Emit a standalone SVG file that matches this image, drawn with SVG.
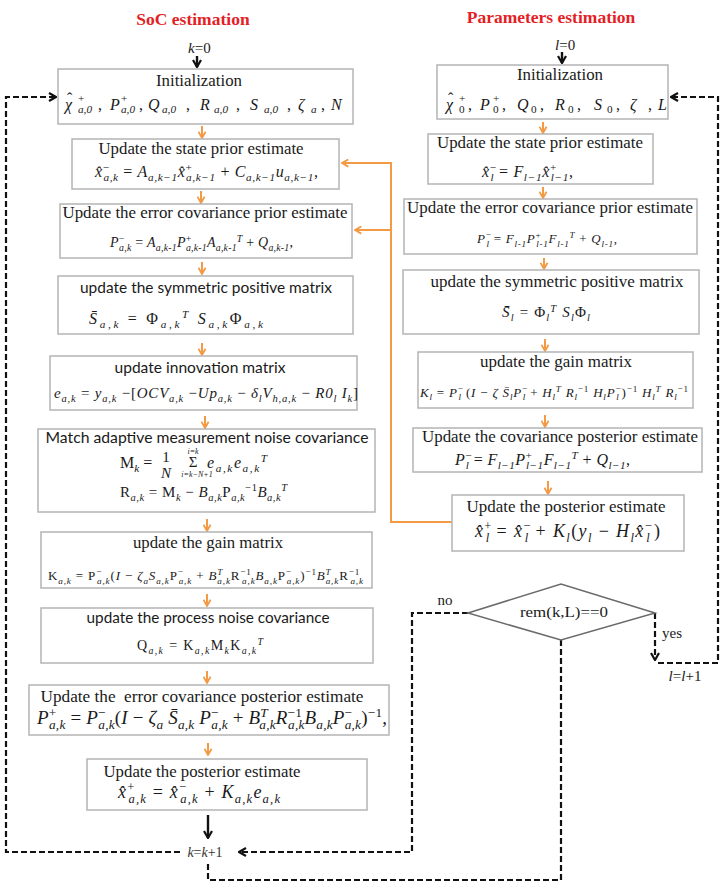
<svg xmlns="http://www.w3.org/2000/svg" width="726" height="888" viewBox="0 0 726 888">
<style>
.bg{fill:#fff}
.box{fill:#fff;stroke:#b4b4b4;stroke-width:1.5}
.t{font-family:"Liberation Serif","Times New Roman",serif;font-size:16px;fill:#1a1a1a;text-anchor:middle}
.ts{font-family:Lato,"Open Sans","Liberation Sans",sans-serif;font-size:16px;fill:#1a1a1a;text-anchor:middle}
.h{font-family:"Liberation Serif","Times New Roman",serif;font-size:17.5px;font-weight:bold;fill:#e41e26;text-anchor:middle}
.m{font-family:"Liberation Serif","Times New Roman",serif;font-style:italic;fill:#1a1a1a}
.u{font-style:normal}
.s{font-size:70%}
.oa{stroke:#f39a45;stroke-width:2;fill:none}
.dash{stroke:#111;stroke-width:2.2;fill:none;stroke-dasharray:6 3}
.sol{stroke:#111;stroke-width:2.4;fill:none}
</style>
<defs>
<marker id="ao" viewBox="0 0 10 10" refX="9" refY="5" markerWidth="9" markerHeight="9" markerUnits="userSpaceOnUse" orient="auto"><path d="M2,1 L9,5 L2,9" fill="none" stroke="#f39a45" stroke-width="2"/></marker>
<marker id="ab" viewBox="0 0 10 10" refX="9" refY="5" markerWidth="10" markerHeight="10" markerUnits="userSpaceOnUse" orient="auto"><path d="M2,1 L9,5 L2,9" fill="none" stroke="#111" stroke-width="2.2"/></marker>
</defs>
<rect class="bg" x="0" y="0" width="726" height="888"/>

<text class="h" x="193" y="25">SoC estimation</text>
<text class="h" x="551" y="23">Parameters estimation</text>

<g id="connectors">
<line class="sol" x1="197" y1="56" x2="197" y2="67" marker-end="url(#ab)"/>
<line class="sol" x1="562" y1="52" x2="562" y2="63" marker-end="url(#ab)"/>
<line class="oa" x1="202" y1="126" x2="202" y2="138" marker-end="url(#ao)"/>
<line class="oa" x1="201" y1="191" x2="201" y2="203" marker-end="url(#ao)"/>
<line class="oa" x1="202" y1="262" x2="202" y2="274" marker-end="url(#ao)"/>
<line class="oa" x1="202" y1="343" x2="202" y2="355" marker-end="url(#ao)"/>
<line class="oa" x1="205" y1="416" x2="205" y2="428" marker-end="url(#ao)"/>
<line class="oa" x1="207" y1="519" x2="207" y2="531" marker-end="url(#ao)"/>
<line class="oa" x1="207" y1="594" x2="207" y2="606" marker-end="url(#ao)"/>
<line class="oa" x1="207" y1="671" x2="207" y2="683" marker-end="url(#ao)"/>
<line class="oa" x1="208" y1="743" x2="208" y2="755" marker-end="url(#ao)"/>
<line class="oa" x1="543" y1="122" x2="543" y2="133" marker-end="url(#ao)"/>
<line class="oa" x1="543" y1="187" x2="543" y2="198" marker-end="url(#ao)"/>
<line class="oa" x1="544" y1="258" x2="544" y2="269" marker-end="url(#ao)"/>
<line class="oa" x1="545" y1="339" x2="545" y2="351" marker-end="url(#ao)"/>
<line class="oa" x1="545" y1="415" x2="545" y2="427" marker-end="url(#ao)"/>
<line class="oa" x1="548" y1="481" x2="548" y2="494" marker-end="url(#ao)"/>
<polyline class="oa" points="452,522 391,522 391,163 342,163" marker-end="url(#ao)"/>
<line class="oa" x1="391" y1="230" x2="355" y2="230" marker-end="url(#ao)"/>
<line class="sol" x1="208" y1="815" x2="208" y2="838" marker-end="url(#ab)"/>
<polyline class="dash" points="180,852 6,852 6,97 56,97" marker-end="url(#ab)"/>
<polyline class="dash" points="468,613 412,613 412,852 239,852" marker-end="url(#ab)"/>
<polyline class="dash" points="561,640 561,880 208,880 208,863"/>
<polyline class="dash" points="655,613 655,660" marker-end="url(#ab)"/>
<polyline class="dash" points="658,663 718,663 718,97 671,97" marker-end="url(#ab)"/>
</g>

<text class="m" x="188" y="53" style="font-size:15px">k<tspan class="u">=0</tspan></text>
<text class="m" x="555" y="50" style="font-size:15px">l<tspan class="u">=0</tspan></text>

<g id="soc-init">
<rect class="box" x="58" y="69" width="295" height="55"/>
<text class="t" x="199" y="86" textLength="86" lengthAdjust="spacingAndGlyphs">Initialization</text>
<text class="m" style="font-size:16px"><tspan x="65" y="110">χ</tspan><tspan class="u" x="67" y="104">ˆ</tspan><tspan class="s u" x="78" y="102">+</tspan><tspan class="s" x="78" y="113">a,0</tspan><tspan class="u" x="98" y="110">,</tspan><tspan x="110" y="110">P</tspan><tspan class="s u" x="121" y="102">+</tspan><tspan class="s" x="121" y="113">a,0</tspan><tspan class="u" x="139" y="110">,</tspan><tspan x="148" y="110">Q</tspan><tspan class="s" x="162" y="113">a,0</tspan><tspan class="u" x="186" y="110">,</tspan><tspan x="200" y="110">R</tspan><tspan class="s" x="214" y="113">a,0</tspan><tspan class="u" x="236" y="110">,</tspan><tspan x="250" y="110">S</tspan><tspan class="s" x="264" y="113">a,0</tspan><tspan class="u" x="287" y="110">,</tspan><tspan x="298" y="110">ζ</tspan><tspan class="s" x="311" y="113">a</tspan><tspan class="u" x="321" y="110">,</tspan><tspan x="331" y="110">N</tspan></text>
</g>

<g id="soc-state-prior">
<rect class="box" x="72" y="139" width="267" height="50"/>
<text class="t" x="201" y="154" textLength="205" lengthAdjust="spacingAndGlyphs">Update the state prior estimate</text>
<text class="m" x="95" y="177" style="font-size:16px" textLength="223" lengthAdjust="spacing"><tspan>x̂</tspan><tspan class="s u" dy="-6">−</tspan><tspan class="s" dx="-0.56em" dy="10">a,k</tspan><tspan class="u" dy="-4"> = </tspan><tspan>A</tspan><tspan class="s" dy="4">a,k−1</tspan><tspan dy="-4">x̂</tspan><tspan class="s u" dy="-6">+</tspan><tspan class="s" dx="-0.56em" dy="10">a,k−1</tspan><tspan class="u" dy="-4"> + </tspan><tspan>C</tspan><tspan class="s" dy="4">a,k−1</tspan><tspan dy="-4">u</tspan><tspan class="s" dy="4">a,k−1</tspan><tspan class="u" dy="-4">,</tspan></text>
</g>

<g id="soc-cov-prior">
<rect class="box" x="60" y="204" width="292" height="54"/>
<text class="t" x="205" y="218" textLength="285" lengthAdjust="spacingAndGlyphs">Update the error covariance prior estimate</text>
<text class="m" x="110" y="247" style="font-size:14px" textLength="183" lengthAdjust="spacing"><tspan>P</tspan><tspan class="s u" dy="-5.5">−</tspan><tspan class="s" dx="-0.56em" dy="9">a,k</tspan><tspan class="u" dy="-3.5"> = </tspan><tspan>A</tspan><tspan class="s" dy="3.5">a,k-1</tspan><tspan dy="-3.5">P</tspan><tspan class="s u" dy="-5.5">+</tspan><tspan class="s" dx="-0.56em" dy="9">a,k-1</tspan><tspan dy="-3.5">A</tspan><tspan class="s" dy="3.5">a,k-1</tspan><tspan class="s" dy="-9">T</tspan><tspan class="u" dy="5.5"> + </tspan><tspan>Q</tspan><tspan class="s" dy="3.5">a,k-1</tspan><tspan class="u" dy="-3.5">,</tspan></text>
</g>

<g id="soc-sym">
<rect class="box" x="58" y="276" width="295" height="58"/>
<text class="ts" x="206" y="293" textLength="252" lengthAdjust="spacingAndGlyphs">update the symmetric positive matrix</text>
<text class="m" x="89" y="324" style="font-size:16px" textLength="174" lengthAdjust="spacing"><tspan>S̄</tspan><tspan class="s" dy="4">a,k</tspan><tspan class="u" dy="-4"> = Φ</tspan><tspan class="s" dy="4">a,k</tspan><tspan class="s" dy="-10">T</tspan><tspan dy="6"> S</tspan><tspan class="s" dy="4">a,k</tspan><tspan class="u" dy="-4">Φ</tspan><tspan class="s" dy="4">a,k</tspan></text>
</g>

<g id="soc-innovation">
<rect class="box" x="50" y="356" width="307" height="54"/>
<text class="ts" x="200" y="373" textLength="171" lengthAdjust="spacingAndGlyphs">update innovation matrix</text>
<text class="m" x="54" y="398" style="font-size:15px" textLength="304" lengthAdjust="spacing"><tspan>e</tspan><tspan class="s" dy="4">a,k</tspan><tspan class="u" dy="-4"> = </tspan><tspan>y</tspan><tspan class="s" dy="4">a,k</tspan><tspan class="u" dy="-4"> −[</tspan><tspan>OCV</tspan><tspan class="s" dy="4">a,k</tspan><tspan class="u" dy="-4"> −</tspan><tspan>Up</tspan><tspan class="s" dy="4">a,k</tspan><tspan class="u" dy="-4"> − </tspan><tspan>δ</tspan><tspan class="s" dy="4">l</tspan><tspan dy="-4">V</tspan><tspan class="s" dy="4">h,a,k</tspan><tspan class="u" dy="-4"> − </tspan><tspan>R0</tspan><tspan class="s" dy="4">l</tspan><tspan dy="-4"> I</tspan><tspan class="s" dy="4">k</tspan><tspan class="u" dy="-4">]</tspan></text>
</g>

<g id="soc-match">
<rect class="box" x="38" y="429" width="337" height="83"/>
<text class="ts" x="207" y="443" textLength="323" lengthAdjust="spacingAndGlyphs">Match adaptive measurement noise covariance</text>
<text class="m" x="120" y="468" style="font-size:16px"><tspan class="u">M</tspan><tspan class="s" dy="4">k</tspan><tspan class="u" dy="-4"> =</tspan></text>
<text class="m u" x="166" y="462" style="font-size:15px;text-anchor:middle">1</text>
<text class="m" x="166" y="478" style="font-size:15px;text-anchor:middle">N</text>
<text class="m u" x="193" y="467" style="font-size:15px;text-anchor:middle">Σ</text>
<text class="m" x="193" y="454" style="font-size:8px;text-anchor:middle">i=k</text>
<text class="m" x="197" y="477" style="font-size:8px;text-anchor:middle">i=k−N+1</text>
<text class="m" x="207" y="468" style="font-size:16px" textLength="60" lengthAdjust="spacing"><tspan>e</tspan><tspan class="s" dy="4">a,k</tspan><tspan dy="-4">e</tspan><tspan class="s" dy="4">a,k</tspan><tspan class="s" dy="-10">T</tspan></text>
<text class="m" x="120" y="497" style="font-size:15px" textLength="167" lengthAdjust="spacing"><tspan class="u">R</tspan><tspan class="s" dy="4">a,k</tspan><tspan class="u" dy="-4"> = M</tspan><tspan class="s" dy="4">k</tspan><tspan class="u" dy="-4"> − </tspan><tspan>B</tspan><tspan class="s" dy="4">a,k</tspan><tspan class="u" dy="-4">P</tspan><tspan class="s" dy="4">a,k</tspan><tspan class="s u" dy="-10">−1</tspan><tspan dy="6">B</tspan><tspan class="s" dy="4">a,k</tspan><tspan class="s" dy="-10">T</tspan></text>
</g>

<g id="soc-gain">
<rect class="box" x="41" y="532" width="331" height="56"/>
<text class="t" x="208" y="548" textLength="150" lengthAdjust="spacingAndGlyphs">update the gain matrix</text>
<text class="m" x="48" y="580" style="font-size:13px" textLength="315" lengthAdjust="spacing"><tspan class="u">K</tspan><tspan class="s" dy="3.5">a,k</tspan><tspan class="u" dy="-3.5"> = P</tspan><tspan class="s u" dy="-5">−</tspan><tspan class="s" dx="-0.56em" dy="8.5">a,k</tspan><tspan class="u" dy="-3.5">(</tspan><tspan>I</tspan><tspan class="u"> − </tspan><tspan>ζ</tspan><tspan class="s" dy="3.5">a</tspan><tspan dy="-3.5">S</tspan><tspan class="s" dy="3.5">a,k</tspan><tspan class="u" dy="-3.5">P</tspan><tspan class="s u" dy="-5">−</tspan><tspan class="s" dx="-0.56em" dy="8.5">a,k</tspan><tspan class="u" dy="-3.5"> + </tspan><tspan>B</tspan><tspan class="s" dy="-5">T</tspan><tspan class="s" dx="-0.55em" dy="8.5">a,k</tspan><tspan class="u" dy="-3.5">R</tspan><tspan class="s u" dy="-5">−1</tspan><tspan class="s" dx="-1.06em" dy="8.5">a,k</tspan><tspan dy="-3.5">B</tspan><tspan class="s" dy="3.5">a,k</tspan><tspan class="u" dy="-3.5">P</tspan><tspan class="s u" dy="-5">−</tspan><tspan class="s" dx="-0.56em" dy="8.5">a,k</tspan><tspan class="u" dy="-3.5">)</tspan><tspan class="s u" dy="-5">−1</tspan><tspan dy="5">B</tspan><tspan class="s" dy="-5">T</tspan><tspan class="s" dx="-0.55em" dy="8.5">a,k</tspan><tspan class="u" dy="-3.5">R</tspan><tspan class="s u" dy="-5">−1</tspan><tspan class="s" dx="-1.06em" dy="8.5">a,k</tspan></text>
</g>

<g id="soc-process">
<rect class="box" x="41" y="608" width="332" height="55"/>
<text class="ts" x="208" y="623" textLength="243" lengthAdjust="spacingAndGlyphs">update the process noise covariance</text>
<text class="m" x="137" y="650" style="font-size:14px" textLength="126" lengthAdjust="spacing"><tspan class="u">Q</tspan><tspan class="s" dy="3.5">a,k</tspan><tspan class="u" dy="-3.5"> = K</tspan><tspan class="s" dy="3.5">a,k</tspan><tspan class="u" dy="-3.5">M</tspan><tspan class="s" dy="3.5">k</tspan><tspan class="u" dy="-3.5">K</tspan><tspan class="s" dy="3.5">a,k</tspan><tspan class="s" dy="-8.5">T</tspan></text>
</g>

<g id="soc-cov-posterior">
<rect class="box" x="29" y="685" width="360" height="50"/>
<text class="t" x="202" y="702" textLength="323" lengthAdjust="spacingAndGlyphs" style="white-space:pre">Update the  error covariance posterior estimate</text>
<text class="m" x="37" y="724" style="font-size:19px" textLength="350" lengthAdjust="spacing"><tspan>P</tspan><tspan class="s u" dy="-7.5">+</tspan><tspan class="s" dx="-0.56em" dy="12.5">a,k</tspan><tspan class="u" dy="-5"> = </tspan><tspan>P</tspan><tspan class="s u" dy="-7.5">−</tspan><tspan class="s" dx="-0.56em" dy="12.5">a,k</tspan><tspan class="u" dy="-5">(</tspan><tspan>I</tspan><tspan class="u"> − </tspan><tspan>ζ</tspan><tspan class="s" dy="5">a</tspan><tspan dy="-5"> S̄</tspan><tspan class="s" dy="5">a,k</tspan><tspan dy="-5"> P</tspan><tspan class="s u" dy="-7.5">−</tspan><tspan class="s" dx="-0.56em" dy="12.5">a,k</tspan><tspan class="u" dy="-5"> + </tspan><tspan>B</tspan><tspan class="s" dy="-7.5">T</tspan><tspan class="s" dx="-0.55em" dy="12.5">a,k</tspan><tspan dy="-5">R</tspan><tspan class="s u" dy="-7.5">−1</tspan><tspan class="s" dx="-1.06em" dy="12.5">a,k</tspan><tspan dy="-5">B</tspan><tspan class="s" dy="5">a,k</tspan><tspan dy="-5">P</tspan><tspan class="s u" dy="-7.5">−</tspan><tspan class="s" dx="-0.56em" dy="12.5">a,k</tspan><tspan class="u" dy="-5">)</tspan><tspan class="s u" dy="-7.5">−1</tspan><tspan class="u" dy="7.5">,</tspan></text>
</g>

<g id="soc-posterior">
<rect class="box" x="87" y="759" width="280" height="51"/>
<text class="t" x="202" y="777" textLength="197" lengthAdjust="spacingAndGlyphs">Update the posterior estimate</text>
<text class="m" x="118" y="798" style="font-size:18px" textLength="162" lengthAdjust="spacing"><tspan>x̂</tspan><tspan class="s u" dy="-7">+</tspan><tspan class="s" dx="-0.56em" dy="11.5">a,k</tspan><tspan class="u" dy="-4.5"> = </tspan><tspan>x̂</tspan><tspan class="s u" dy="-7">−</tspan><tspan class="s" dx="-0.56em" dy="11.5">a,k</tspan><tspan class="u" dy="-4.5"> + </tspan><tspan>K</tspan><tspan class="s" dy="4.5">a,k</tspan><tspan dy="-4.5">e</tspan><tspan class="s" dy="4.5">a,k</tspan></text>
</g>

<text class="m" x="205" y="857" style="font-size:14px;text-anchor:middle;fill:#333">k<tspan class="u">=</tspan>k<tspan class="u">+1</tspan></text>

<g id="par-init">
<rect class="box" x="437" y="65" width="231" height="54"/>
<text class="t" x="560" y="80" textLength="86" lengthAdjust="spacingAndGlyphs">Initialization</text>
<text class="m" style="font-size:16px"><tspan x="446" y="110">χ</tspan><tspan class="u" x="448" y="104">ˆ</tspan><tspan class="s u" x="459" y="102">+</tspan><tspan class="s u" x="459" y="113">0</tspan><tspan class="u" x="468" y="110">,</tspan><tspan x="480" y="110">P</tspan><tspan class="s u" x="493" y="102">+</tspan><tspan class="s u" x="493" y="113">0</tspan><tspan class="u" x="502" y="110">,</tspan><tspan x="517" y="110">Q</tspan><tspan class="s u" x="531" y="113">0</tspan><tspan class="u" x="540" y="110">,</tspan><tspan x="555" y="110">R</tspan><tspan class="s u" x="568" y="113">0</tspan><tspan class="u" x="577" y="110">,</tspan><tspan x="594" y="110">S</tspan><tspan class="s u" x="607" y="113">0</tspan><tspan class="u" x="616" y="110">,</tspan><tspan x="630" y="110">ζ</tspan><tspan class="u" x="648" y="110">,</tspan><tspan x="658" y="110">L</tspan></text>
</g>

<g id="par-state-prior">
<rect class="box" x="428" y="134" width="225" height="50"/>
<text class="t" x="540" y="148" textLength="206" lengthAdjust="spacingAndGlyphs">Update the state prior estimate</text>
<text class="m" x="482" y="177" style="font-size:16px" textLength="91" lengthAdjust="spacing"><tspan>x̂</tspan><tspan class="s u" dy="-6">−</tspan><tspan class="s" dx="-0.56em" dy="10">l</tspan><tspan class="u" dy="-4"> = </tspan><tspan>F</tspan><tspan class="s" dy="4">l−1</tspan><tspan dy="-4">x̂</tspan><tspan class="s u" dy="-6">+</tspan><tspan class="s" dx="-0.56em" dy="10">l−1</tspan><tspan class="u" dy="-4">,</tspan></text>
</g>

<g id="par-cov-prior">
<rect class="box" x="404" y="199" width="293" height="55"/>
<text class="t" x="550" y="213" textLength="286" lengthAdjust="spacingAndGlyphs">Update the error covariance prior estimate</text>
<text class="m" x="477" y="243" style="font-size:13px" textLength="140" lengthAdjust="spacing"><tspan>P</tspan><tspan class="s u" dy="-5">−</tspan><tspan class="s" dx="-0.56em" dy="8.5">l</tspan><tspan class="u" dy="-3.5"> = </tspan><tspan>F</tspan><tspan class="s" dy="3.5">l-1</tspan><tspan dy="-3.5">P</tspan><tspan class="s u" dy="-5">+</tspan><tspan class="s" dx="-0.56em" dy="8.5">l-1</tspan><tspan dy="-3.5">F</tspan><tspan class="s" dy="3.5">l-1</tspan><tspan class="s" dy="-8.5">T</tspan><tspan class="u" dy="5"> + </tspan><tspan>Q</tspan><tspan class="s" dy="3.5">l-1</tspan><tspan class="u" dy="-3.5">,</tspan></text>
</g>

<g id="par-sym">
<rect class="box" x="403" y="270" width="296" height="64"/>
<text class="t" x="557" y="287" textLength="253" lengthAdjust="spacingAndGlyphs">update the symmetric positive matrix</text>
<text class="m" x="502" y="317" style="font-size:15px" textLength="88" lengthAdjust="spacing"><tspan>S̄</tspan><tspan class="s" dy="3.5">l</tspan><tspan class="u" dy="-3.5"> = Φ</tspan><tspan class="s" dy="3.5">l</tspan><tspan class="s" dy="-9">T</tspan><tspan dy="5.5"> S</tspan><tspan class="s" dy="3.5">l</tspan><tspan class="u" dy="-3.5">Φ</tspan><tspan class="s" dy="3.5">l</tspan></text>
</g>

<g id="par-gain">
<rect class="box" x="418" y="352" width="275" height="56"/>
<text class="t" x="556" y="367" textLength="152" lengthAdjust="spacingAndGlyphs">update the gain matrix</text>
<text class="m" x="420" y="397" style="font-size:13px" textLength="268" lengthAdjust="spacing"><tspan>K</tspan><tspan class="s" dy="3">l</tspan><tspan class="u" dy="-3"> = </tspan><tspan>P</tspan><tspan class="s u" dy="-5">−</tspan><tspan class="s" dx="-0.56em" dy="8">l</tspan><tspan class="u" dy="-3"> (</tspan><tspan>I</tspan><tspan class="u"> − </tspan><tspan>ζ S̄</tspan><tspan class="s" dy="3">l</tspan><tspan dy="-3">P</tspan><tspan class="s u" dy="-5">−</tspan><tspan class="s" dx="-0.56em" dy="8">l</tspan><tspan class="u" dy="-3"> + </tspan><tspan>H</tspan><tspan class="s" dy="3">l</tspan><tspan class="s" dy="-8">T</tspan><tspan dy="5"> R</tspan><tspan class="s" dy="3">l</tspan><tspan class="s u" dy="-8">−1</tspan><tspan dy="5"> H</tspan><tspan class="s" dy="3">l</tspan><tspan dy="-3">P</tspan><tspan class="s u" dy="-5">−</tspan><tspan class="s" dx="-0.56em" dy="8">l</tspan><tspan class="u" dx="2" dy="-3">)</tspan><tspan class="s u" dy="-5">−1</tspan><tspan dy="5"> H</tspan><tspan class="s" dy="3">l</tspan><tspan class="s" dy="-8">T</tspan><tspan dy="5"> R</tspan><tspan class="s" dy="3">l</tspan><tspan class="s u" dy="-8">−1</tspan></text>
</g>

<g id="par-cov-posterior">
<rect class="box" x="413" y="428" width="289" height="44"/>
<text class="t" x="560" y="442" textLength="276" lengthAdjust="spacingAndGlyphs">Update the covariance posterior estimate</text>
<text class="m" x="455" y="465" style="font-size:16px" textLength="175" lengthAdjust="spacing"><tspan>P</tspan><tspan class="s u" dy="-6">−</tspan><tspan class="s" dx="-0.56em" dy="10">l</tspan><tspan class="u" dy="-4"> = </tspan><tspan>F</tspan><tspan class="s" dy="4">l−1</tspan><tspan dy="-4">P</tspan><tspan class="s u" dy="-6">+</tspan><tspan class="s" dx="-0.56em" dy="10">l−1</tspan><tspan dy="-4">F</tspan><tspan class="s" dy="4">l−1</tspan><tspan class="s" dy="-10">T</tspan><tspan class="u" dy="6"> + </tspan><tspan>Q</tspan><tspan class="s" dy="4">l−1</tspan><tspan class="u" dy="-4">,</tspan></text>
</g>

<g id="par-posterior">
<rect class="box" x="452" y="495" width="232" height="56"/>
<text class="t" x="566" y="512" textLength="199" lengthAdjust="spacingAndGlyphs">Update the posterior estimate</text>
<text class="m" x="475" y="537" style="font-size:18px" textLength="185" lengthAdjust="spacing"><tspan>x̂</tspan><tspan class="s u" dy="-7">+</tspan><tspan class="s" dx="-0.56em" dy="11.5">l</tspan><tspan class="u" dy="-4.5"> = </tspan><tspan>x̂</tspan><tspan class="s u" dy="-7">−</tspan><tspan class="s" dx="-0.56em" dy="11.5">l</tspan><tspan class="u" dy="-4.5"> + </tspan><tspan>K</tspan><tspan class="s" dy="4.5">l</tspan><tspan class="u" dy="-4.5">(</tspan><tspan>y</tspan><tspan class="s" dy="4.5">l</tspan><tspan class="u" dy="-4.5"> − </tspan><tspan>H</tspan><tspan class="s" dy="4.5">l</tspan><tspan dy="-4.5">x̂</tspan><tspan class="s u" dy="-7">−</tspan><tspan class="s" dx="-0.56em" dy="11.5">l</tspan><tspan class="u" dx="3" dy="-4.5">)</tspan></text>
</g>

<g id="decision">
<polygon points="468,613 561,584 655,613 561,640" fill="#fff" stroke="#6a6a6a" stroke-width="1.5"/>
<text class="t" x="564" y="617" textLength="88" lengthAdjust="spacingAndGlyphs" style="font-size:15px">rem(k,L)==0</text>
</g>
<text class="t" x="445" y="605" style="font-size:15px">no</text>
<text class="t" x="662" y="638" style="font-size:15px;text-anchor:start">yes</text>
<text class="m" x="685" y="681" style="font-size:15px;text-anchor:middle">l<tspan class="u">=</tspan>l<tspan class="u">+1</tspan></text>
</svg>
